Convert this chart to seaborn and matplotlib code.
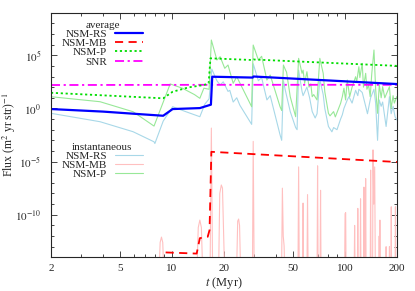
import numpy as np
import pandas as pd
import seaborn as sns
import matplotlib.pyplot as plt
from matplotlib.lines import Line2D

# ================== DATA (log10 flux) ==================
t_avg_rs = [2, 4, 6, 8.9, 10.1, 14.5, 16.4, 16.8, 17.1, 29.3, 29.6, 200]
lg_avg_rs = [-0.06, -0.3, -0.5, -0.69, -0.06, 0.03, 0.3, 0.35, 2.98, 2.9, 3.0, 2.29]

t_avg_mb = [8.8, 9.1, 13.9, 14.5, 16.1, 16.5, 16.9, 200]
lg_avg_mb = [-16.0, -13.54, -13.65, -12.2, -12.07, -11.44, -4.08, -5.04]

t_avg_p = [2, 8.9, 10.1, 12.5, 15.3, 16.3, 16.7, 29.3, 29.6, 200]
lg_avg_p = [1.47, 0.95, 1.57, 1.98, 2.2, 2.36, 4.71, 4.55, 4.6, 4.0]

t_snr = [2, 20, 200]
lg_snr = [2.2, 2.22, 2.22]

t_inst_rs = [2, 3.84, 5.96, 7.88, 7.97, 8.9, 10.1, 12.0, 14.5, 15.5, 16.4, 17.0,
             18.2, 19.0, 19.8, 21.1, 21.6, 22.6, 23.7, 24.7, 28.9, 29.5, 31.6, 33.0,
             35.4, 37.0, 42.2, 43.1, 44.1, 45.1, 48.3, 51.9, 52.9, 54.0, 56.5, 57.3,
             60.3, 62.5, 64.7, 67.3, 69.0, 71.6, 74.9, 76.5, 80.3, 84.1, 86.0, 90.0,
             94.4, 96.6, 98.7, 103.2, 105.5, 110.0, 115.3, 118.7, 120.4, 125.9, 131.8,
             135.0, 140.8, 147.2, 150.5, 154.4, 157.8, 162.0, 165.2, 173.0, 180.9,
             185.0, 189.8, 195.0, 200]
lg_inst_rs = [-0.46, -1.25, -2.19, -3.14, -3.3, -1.2, 0.16, -0.3, -0.78, 0.4, 0.9, 3.7,
              2.6, 2.2, 2.5, 1.6, 1.7, 0.6, 1.0, 0.3, -1.5, 4.2, 2.6, 2.9,
              0.8, 1.2, -2.5, -3.0, 2.6, 1.8, -0.3, -1.8, -2.0, 3.6, 1.6, 1.2,
              2.0, 1.0, -0.3, -0.9, -0.5, 2.7, 1.3, 0.0, -1.7, -2.2, -1.8, -2.0,
              -1.0, -0.6, 0.0, 0.8, 1.1, 0.5, 1.7, 1.2, 1.8, 1.5, 0.2,
              -0.5, 1.0, 1.8, 0.5, -3.0, 0.8, 0.2, 0.6, -1.7, 1.1,
              -0.5, 0.2, -0.8, -1.1]

t_inst_p = [2, 3.84, 5.96, 7.88, 9.77, 11.5, 13.5, 14.5, 15.3, 16.4, 16.9,
            18.2, 19.0, 20.2, 21.1, 22.6, 23.7, 28.9, 29.5, 31.6, 33.0, 35.4, 37.0,
            42.2, 43.1, 44.1, 45.1, 46.0, 48.3, 51.9, 54.0, 56.5, 57.3, 58.5, 60.3,
            62.0, 63.5, 64.7, 66.0, 69.0, 71.6, 74.9, 76.5, 80.3, 82.0, 86.0, 88.0,
            94.4, 96.6, 98.7, 100.9, 103.2, 106.5, 110.0, 115.3, 117.0, 120.4, 122.0,
            125.9, 128.0, 131.8, 134.0, 137.0, 140.0, 143.0, 147.2, 150.5, 154.4,
            158.0, 162.0, 165.2, 170.0, 180.9, 185.0, 189.8, 193.0, 199.4, 200]
lg_inst_p = [1.1, 0.63, -0.31, -1.66, 2.3, 1.9, 1.3, 0.95, 1.9, 1.8, 6.43,
             4.55, 4.86, 3.77, 4.08, 2.36, 2.98, 0.16, 5.96, 4.55, 4.9, 2.67, 3.14,
             0.15, -0.2, 4.08, 3.7, 3.4, 1.1, -0.78, 4.71, 3.3, 3.6, 2.36, 3.45,
             2.0, 2.3, 1.1, 1.3, 0.8, 4.71, 3.3, 1.57, -0.46, -0.7, -0.3, -0.8,
             0.48, 1.1, 1.9, 0.8, 2.67, 1.1, 2.0, 2.98, 2.5, 3.92, 2.9,
             4.24, 2.0, 3.3, 1.8, 2.2, 1.1, 3.3, 5.49, 1.8, -0.46,
             2.2, 1.0, 2.04, 1.0, 2.04, 0.0, 1.2, 0.5, 1.1, 1.0]

t_inst_mb = [2, 8.4, 8.55, 8.7, 8.85, 9.0,
             13.9, 14.2, 14.5, 14.8, 15.1,
             16.6, 16.9, 17.2,
             18.6, 18.9, 19.3, 19.6, 20.2,
             23.6, 24.0, 24.3, 24.6, 25.0,
             29.2, 29.5, 29.9,
             43.0, 43.5, 44.0, 44.5, 45.0,
             53.5, 54.0, 54.5,
             56.9, 57.3, 57.7,
             60.3, 60.8, 61.3,
             69.0, 69.5, 70.0,
             71.8, 72.3, 72.8,
             99.5, 100.2, 101.0, 101.6,
             113.0, 113.8, 114.6,
             118.0, 118.7, 119.5,
             122.4, 123.1, 123.8,
             128.0, 128.8, 129.6,
             131.0, 131.8, 132.6,
             140.0, 140.8, 141.6,
             144.5, 145.3, 146.8, 148.6, 150.0,
             157.0, 157.8, 158.5, 159.3, 160.0,
             172.0, 173.0, 174.0,
             180.0, 180.9, 182.0,
             184.5, 185.3, 186.0,
             195.0, 195.9, 196.8, 200]
lg_inst_mb = [-16, -16, -12.6, -12.1, -12.6, -16,
              -16, -11.2, -10.5, -11.2, -16,
              -16, -1.85, -16,
              -16, -8.0, -7.2, -7.5, -16,
              -16, -10.6, -10.4, -11.0, -16,
              -16, -3.1, -16,
              -16, -7.5, -12.0, -12.9, -16,
              -16, -5.5, -16,
              -16, -8.9, -16,
              -16, -8.1, -16,
              -16, -5.4, -16,
              -16, -7.7, -16,
              -16, -9.9, -9.8, -16,
              -16, -11.0, -16,
              -16, -9.4, -16,
              -16, -8.5, -16,
              -16, -7.4, -16,
              -16, -6.6, -16,
              -16, -5.8, -16,
              -16, -3.9, -9.0, -5.5, -16,
              -16, -12.0, -16, -10.5, -16,
              -16, -13.0, -16,
              -16, -13.0, -16,
              -16, -9.25, -16,
              -16, -9.25, -16, -16]

# ================== STYLE ==================
sns.set_style("ticks")
plt.rcParams["font.family"] = ["Liberation Serif", "DejaVu Serif"]
plt.rcParams["mathtext.fontset"] = "stix"
plt.rcParams["font.size"] = 8

STYLES = {
    "i_rs": dict(color="#a8d8e8", lw=0.8, linestyle="-"),
    "i_mb": dict(color="#ffc0c0", lw=0.8, linestyle="-"),
    "i_p": dict(color="#98e898", lw=0.8, linestyle="-"),
    "snr": dict(color="#ff00ff", lw=1.3, linestyle=(0, (5, 2, 1.2, 2))),
    "a_p": dict(color="#00dd00", lw=1.3, linestyle=(0, (1.2, 1.5))),
    "a_mb": dict(color="#ff0000", lw=1.3, linestyle=(0, (4.5, 3))),
    "a_rs": dict(color="#0000ff", lw=1.6, linestyle="-"),
}


def draw(ax, t, lg, key):
    df = pd.DataFrame({"t": t, "flux": np.power(10.0, lg)})
    sns.lineplot(data=df, x="t", y="flux", ax=ax, estimator=None, sort=False, **STYLES[key])


fig = plt.figure(figsize=(4.15, 2.91), dpi=100)
ax = fig.add_axes([51 / 415, 1 - 257.3 / 291, 346 / 415, 244.6 / 291])

# instantaneous (background)
draw(ax, t_inst_rs, lg_inst_rs, "i_rs")
draw(ax, t_inst_mb, lg_inst_mb, "i_mb")
draw(ax, t_inst_p, lg_inst_p, "i_p")

# averages
draw(ax, t_snr, lg_snr, "snr")
draw(ax, t_avg_p, lg_avg_p, "a_p")
draw(ax, t_avg_mb, lg_avg_mb, "a_mb")
draw(ax, t_avg_rs, lg_avg_rs, "a_rs")

ax.set_xscale("log")
ax.set_yscale("log")
ax.set_xlim(2, 200)
ax.set_ylim(1e-14, 1e9)

xt = [2, 5, 10, 20, 50, 100, 200]
ax.set_xticks(xt)
ax.set_xticklabels([str(v) for v in xt])
ax.set_xticks([3, 4, 6, 7, 8, 9, 30, 40, 60, 70, 80, 90], minor=True)
ax.set_yticks([1e-10, 1e-5, 1e0, 1e5])
ax.set_yticklabels([r"$10^{-10}$", r"$10^{-5}$", r"$10^{0}$", r"$10^{5}$"])
ax.set_yticks([10.0 ** k for k in range(-14, 10)], minor=True)
ax.tick_params(which="both", direction="in", top=True, right=True, labelsize=8)
ax.tick_params(axis="y", pad=7)
ax.tick_params(axis="x", pad=5)
ax.tick_params(which="major", length=4, width=0.6)
ax.tick_params(which="minor", length=2, width=0.6)
ax.yaxis.set_minor_formatter(plt.NullFormatter())
ax.xaxis.set_minor_formatter(plt.NullFormatter())
for s in ax.spines.values():
    s.set_linewidth(0.8)

ax.set_xlabel(r"$t$ (Myr)", fontsize=9, labelpad=1)
ax.set_ylabel(r"Flux (m$^2$ yr str)$^{-1}$", fontsize=8.5)
ax.yaxis.set_label_coords(-0.095, 0.5)

avg_handles = [Line2D([], [], **STYLES[k]) for k in ["a_rs", "a_mb", "a_p", "snr"]]
inst_handles = [Line2D([], [], **STYLES[k]) for k in ["i_rs", "i_mb", "i_p"]]

leg1 = ax.legend(avg_handles, ["NSM-RS", "NSM-MB", "NSM-P", "SNR"],
                 title="average", loc="upper left", bbox_to_anchor=(0.015, 0.99),
                 frameon=False, markerfirst=False, borderpad=0, labelspacing=-0.05,
                 handlelength=2.55, handletextpad=0.7, fontsize=8, title_fontsize=8)
ax.add_artist(leg1)
ax.legend(inst_handles, ["NSM-RS", "NSM-MB", "NSM-P"],
          title="instantaneous", loc="upper left", bbox_to_anchor=(0.015, 0.492),
          frameon=False, markerfirst=False, borderpad=0, labelspacing=-0.05,
          handlelength=2.55, handletextpad=0.7, fontsize=8, title_fontsize=8)

fig.savefig("out.png", dpi=100)
